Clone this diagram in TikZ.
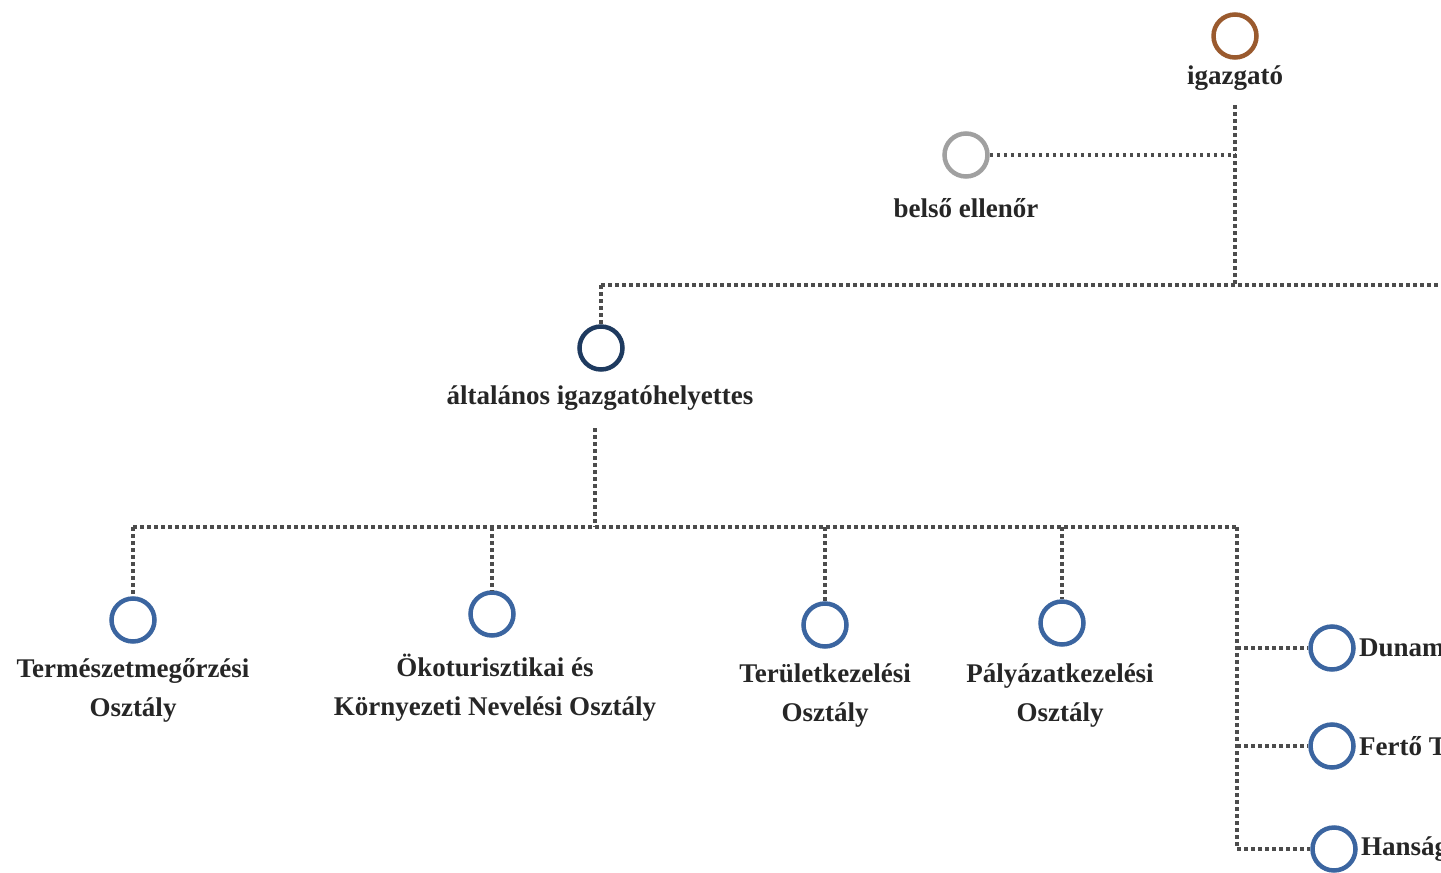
\documentclass[tikz,border=0pt]{standalone}
\usepackage{fontspec}
\setmainfont{Liberation Serif}
\begin{document}
\begin{tikzpicture}[x=1pt,y=-1pt,
  unit/.style={circle,line width=4.5pt,minimum size=43pt,inner sep=0pt,draw=#1},
  lbl/.style={font=\fontsize{27}{39}\selectfont\bfseries,text=black!85,align=center,inner sep=0pt},
  conn/.style={line width=4pt,draw=black!70,dash pattern=on 3.5pt off 3.5pt}]
\definecolor{brownc}{HTML}{9A5A2E}
\definecolor{grayc}{HTML}{A0A0A0}
\definecolor{navy}{HTML}{1E3A5F}
\definecolor{bluec}{HTML}{3B65A0}
\useasboundingbox (0,0) rectangle (1441,873);
\clip (0,0) rectangle (1441,873);
% nodes
\node[unit=brownc] (ig) at (1235,36) {};
\node[lbl] (igt) at (1235,78) {igazgató};
\node[unit=grayc] (be) at (966,155) {};
\node[lbl] (bet) at (966,208) {belső ellenőr};
\node[unit=navy] (al) at (601,348) {};
\node[lbl] (alt) at (600,398) {általános igazgatóhelyettes};
\node[unit=bluec] (t1) at (133,620) {};
\node[lbl] (t1t) at (133,690) {Természetmegőrzési\\Osztály};
\node[unit=bluec] (t2) at (492,614) {};
\node[lbl] (t2t) at (495,688) {Ökoturisztikai és\\Környezeti Nevelési Osztály};
\node[unit=bluec] (t3) at (825,625) {};
\node[lbl] (t3t) at (825,696) {Területkezelési\\Osztály};
\node[unit=bluec] (t4) at (1062,623) {};
\node[lbl] (t4t) at (1060,696) {Pályázatkezelési\\Osztály};
\node[unit=bluec] (r1) at (1332,648) {};
\node[lbl,anchor=west] (r1t) at (1359,648) {Dunam};
\node[unit=bluec] (r2) at (1332,746) {};
\node[lbl,anchor=west] (r2t) at (1359,746) {Fertő T};
\node[unit=bluec] (r3) at (1334,849) {};
\node[lbl,anchor=west] (r3t) at (1361,849) {Hanság};
% junction coordinates
\coordinate (j1) at (1235,105);
\coordinate (jb) at (1235,155);
\coordinate (jh) at (1235,285);
\coordinate (jl) at (601,285);
\coordinate (jr) at (1441,285);
\coordinate (k1) at (595,428);
\coordinate (k2) at (595,527);
\coordinate (kl) at (133,527);
\coordinate (k2a) at (492,527);
\coordinate (k3) at (825,527);
\coordinate (k4) at (1062,527);
\coordinate (kr) at (1237,527);
\coordinate (kb) at (1237,849);
% connectors
\draw[conn] (j1) -- (jh);
\draw[conn] (be.east) -- (jb);
\draw[conn] (jl) -- (jr);
\draw[conn] (jl) -- (al.north);
\draw[conn] (k1) -- (k2);
\draw[conn] (kl) -- (kr);
\draw[conn] (kl) -- (t1.north);
\draw[conn] (k2a) -- (t2.north);
\draw[conn] (k3) -- (t3.north);
\draw[conn] (k4) -- (t4.north);
\draw[conn] (kr) -- (kb);
\draw[conn] (kr |- r1) -- (r1.west);
\draw[conn] (kr |- r2) -- (r2.west);
\draw[conn] (kb) -- (r3.west);
\end{tikzpicture}
\end{document}
